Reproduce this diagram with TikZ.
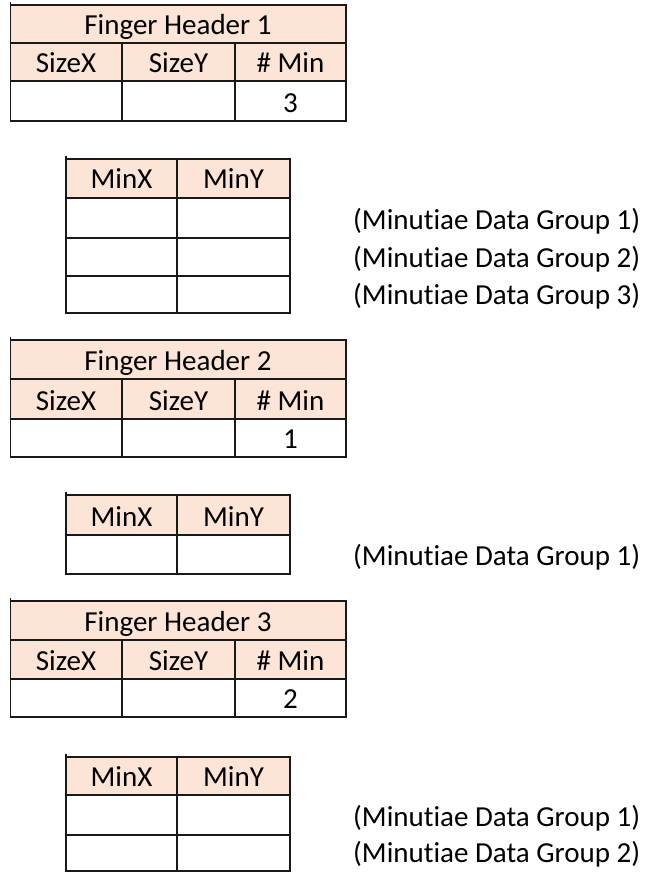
\documentclass[tikz,border=0pt]{standalone}
\usepackage{fontspec}
\setmainfont{Carlito}[Ligatures=NoCommon]
\definecolor{headfill}{HTML}{FCE4D6}
\begin{document}
\begin{tikzpicture}[x=1pt,y=-1pt,
  cell/.style={font=\fontsize{29}{33}\selectfont,inner sep=0pt,anchor=base},
  note/.style={font=\fontsize{29}{33}\selectfont,inner sep=0pt,anchor=base west},
  rule/.style={line width=1.6pt,draw=black!90}]
 \useasboundingbox (0,0) rectangle (647,873);
 % Finger Header 1
 \fill[headfill](10.5,5) rectangle (346,81);
 \draw[rule](10.5,2)--(10.5,121)--(346,121)--(346,5)--(10.5,5);
 \draw[rule](10.5,43)--(346,43) (10.5,81)--(346,81) (122,43)--(122,121) (235,43)--(235,121);
 \node[cell] (fh1) at (178,34) {Finger Header 1};
 \node[cell] (sx1) at (66,72) {SizeX};
 \node[cell] (sy1) at (178.5,72) {SizeY};
 \node[cell] (nm1) at (290.5,72) {\# Min};
 \node[cell] (nv1) at (290.5,112) {3};
 % Minutiae 1
 \fill[headfill](66,159) rectangle (290,198);
 \draw[rule](66,156)--(66,313)--(290,313)--(290,159)--(66,159);
 \draw[rule](66,198)--(290,198) (66,238)--(290,238) (66,276)--(290,276) (177,159)--(177,313);
 \node[cell] (mx1) at (121.5,188) {MinX};
 \node[cell] (my1) at (233.5,188) {MinY};
 \node[note] (g11) at (353,229) {(Minutiae Data Group 1)};
 \node[note] (g12) at (353,267) {(Minutiae Data Group 2)};
 \node[note] (g13) at (353,304) {(Minutiae Data Group 3)};
 % Finger Header 2
 \fill[headfill](10.5,340) rectangle (346,419);
 \draw[rule](10.5,337)--(10.5,457)--(346,457)--(346,340)--(10.5,340);
 \draw[rule](10.5,379)--(346,379) (10.5,419)--(346,419) (122,379)--(122,457) (235,379)--(235,457);
 \node[cell] (fh2) at (178,370) {Finger Header 2};
 \node[cell] (sx2) at (66,410) {SizeX};
 \node[cell] (sy2) at (178.5,410) {SizeY};
 \node[cell] (nm2) at (290.5,410) {\# Min};
 \node[cell] (nv2) at (290.5,448) {1};
 % Minutiae 2
 \fill[headfill](66,495) rectangle (290,535);
 \draw[rule](66,492)--(66,574)--(290,574)--(290,495)--(66,495);
 \draw[rule](66,535)--(290,535) (177,495)--(177,574);
 \node[cell] (mx2) at (121.5,526) {MinX};
 \node[cell] (my2) at (233.5,526) {MinY};
 \node[note] (g21) at (353,565) {(Minutiae Data Group 1)};
 % Finger Header 3
 \fill[headfill](10.5,601) rectangle (346,679);
 \draw[rule](10.5,598)--(10.5,717)--(346,717)--(346,601)--(10.5,601);
 \draw[rule](10.5,640)--(346,640) (10.5,679)--(346,679) (122,640)--(122,717) (235,640)--(235,717);
 \node[cell] (fh3) at (178,631) {Finger Header 3};
 \node[cell] (sx3) at (66,670) {SizeX};
 \node[cell] (sy3) at (178.5,670) {SizeY};
 \node[cell] (nm3) at (290.5,670) {\# Min};
 \node[cell] (nv3) at (290.5,708) {2};
 % Minutiae 3
 \fill[headfill](66,757) rectangle (290,795);
 \draw[rule](66,754)--(66,871)--(290,871)--(290,757)--(66,757);
 \draw[rule](66,795)--(290,795) (66,835)--(290,835) (177,757)--(177,871);
 \node[cell] (mx3) at (121.5,786) {MinX};
 \node[cell] (my3) at (233.5,786) {MinY};
 \node[note] (g31) at (353,826) {(Minutiae Data Group 1)};
 \node[note] (g32) at (353,862) {(Minutiae Data Group 2)};
\end{tikzpicture}
\end{document}
